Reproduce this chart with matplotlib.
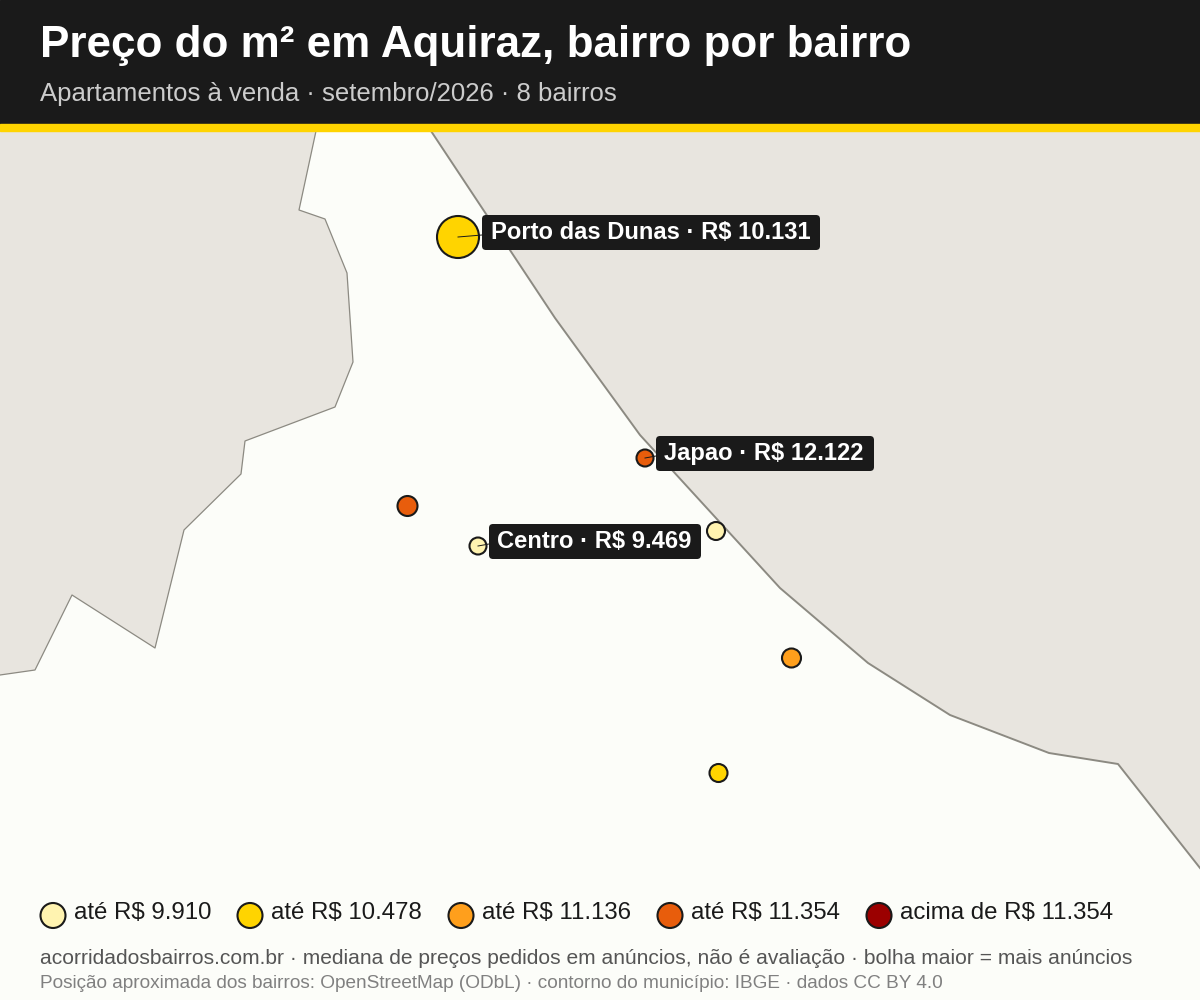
import matplotlib
matplotlib.use("Agg")
import matplotlib.pyplot as plt
from matplotlib.patches import Rectangle, Circle, Polygon, FancyBboxPatch

plt.rcParams['font.family'] = ['Liberation Sans', 'DejaVu Sans']

# Contorno do municipio (posicoes)
contorno_oeste_x = [316, 299, 325, 347, 353, 335, 245, 241, 184, 155, 72, 35, 0]
contorno_oeste_y = [131, 210, 219, 273, 362, 407, 441, 474, 530, 648, 595, 670, 675]
contorno_leste_x = [431, 555, 640, 780, 868, 950, 1049, 1118, 1200]
contorno_leste_y = [131, 318, 435, 588, 663, 715, 753, 764, 868]

# Bairros
bolha_x = [458, 645, 407.5, 478, 716, 791.5, 718.5]
bolha_y = [237, 458, 506, 546, 531, 658, 773]
bolha_raio = [21, 8.5, 10, 8.5, 9, 9.5, 9]
bolha_faixa = [1, 3, 3, 0, 0, 2, 1]

rotulos = ["Porto das Dunas · R$ 10.131", "Japao · R$ 12.122", "Centro · R$ 9.469"]
rotulo_bolha = [0, 1, 3]
rotulo_x = [491, 664, 497]
rotulo_y = [232.5, 453.5, 541.5]
caixa_x0 = [482, 656, 489]
caixa_x1 = [820, 874, 701]
caixa_y0 = [215, 436, 524]
caixa_y1 = [250, 471, 559]

# Legenda
cores = ["#FFF3B0", "#FFD400", "#FF9F1C", "#E85D0C", "#9B0000"]
legenda = ["até R$ 9.910", "até R$ 10.478", "até R$ 11.136", "até R$ 11.354", "acima de R$ 11.354"]
legenda_x = [53, 250, 461, 670, 879]
legenda_texto_x = [74, 271, 482, 691, 900]

preto = "#1A1A1A"

fig = plt.figure(figsize=(12, 10), dpi=100)
ax = fig.add_axes([0, 0, 1, 1])
ax.set_xlim(0, 1200)
ax.set_ylim(1000, 0)
ax.axis("off")

# fundo: o que esta fora do municipio
ax.add_patch(Rectangle((0, 0), 1200, 1000, color="#E8E5DF", zorder=0))
poli = list(zip(contorno_oeste_x, contorno_oeste_y))
poli += [(0, 1000), (1200, 1000)]
poli += list(zip(contorno_leste_x[::-1], contorno_leste_y[::-1]))
ax.add_patch(Polygon(poli, closed=True, facecolor="#FCFDF9", edgecolor="none", zorder=1))
ax.plot(contorno_oeste_x, contorno_oeste_y, color="#8C8A82", lw=0.9, zorder=2)
ax.plot(contorno_leste_x, contorno_leste_y, color="#8C8A82", lw=1.4, zorder=2)

# bolhas
tamanhos = [(2 * r * 0.72) ** 2 for r in bolha_raio]
ax.scatter(bolha_x, bolha_y, s=tamanhos, c=[cores[f] for f in bolha_faixa],
           edgecolors=preto, linewidths=1.5, zorder=3)

# rotulos
for i, txt in enumerate(rotulos):
    b = rotulo_bolha[i]
    ax.plot([bolha_x[b], caixa_x0[i]], [bolha_y[b], bolha_y[b] - 2], color=preto, lw=0.7, zorder=4)
    ax.add_patch(FancyBboxPatch((caixa_x0[i], caixa_y0[i]), caixa_x1[i] - caixa_x0[i], caixa_y1[i] - caixa_y0[i],
                                boxstyle="round,pad=0,rounding_size=4", fc=preto, ec="none", zorder=5))
    ax.text(rotulo_x[i], rotulo_y[i], txt, fontsize=17.1, fontweight="bold", color="white",
            va="center", ha="left", zorder=5)

# cabecalho
ax.add_patch(Rectangle((0, 0), 1200, 124, color=preto, zorder=6))
ax.add_patch(Rectangle((0, 124), 1200, 7, color="#FFD400", zorder=6))
ax.text(40, 46, "Preço do m² em Aquiraz, bairro por bairro", fontsize=31.65, fontweight="bold",
        color="white", va="center", ha="left", zorder=7)
ax.text(40, 94, "Apartamentos à venda · setembro/2026 · 8 bairros", fontsize=18.58,
        color="#CCCCCC", va="center", ha="left", zorder=7)

# legenda
for i, txt in enumerate(legenda):
    ax.add_patch(Circle((legenda_x[i], 915.5), 12.5, facecolor=cores[i], edgecolor=preto, lw=1.5, zorder=7))
    ax.text(legenda_texto_x[i], 913, txt, fontsize=17.3, color=preto, va="center", ha="left", zorder=7)

# rodape
ax.text(40, 959, "acorridadosbairros.com.br · mediana de preços pedidos em anúncios, não é avaliação · bolha maior = mais anúncios",
        fontsize=15.08, color="#555555", va="center", ha="left", zorder=7)
ax.text(40, 984, "Posição aproximada dos bairros: OpenStreetMap (ODbL) · contorno do município: IBGE · dados CC BY 4.0",
        fontsize=13.69, color="#808080", va="center", ha="left", zorder=7)

fig.savefig("out.png", dpi=100)
plt.close(fig)
